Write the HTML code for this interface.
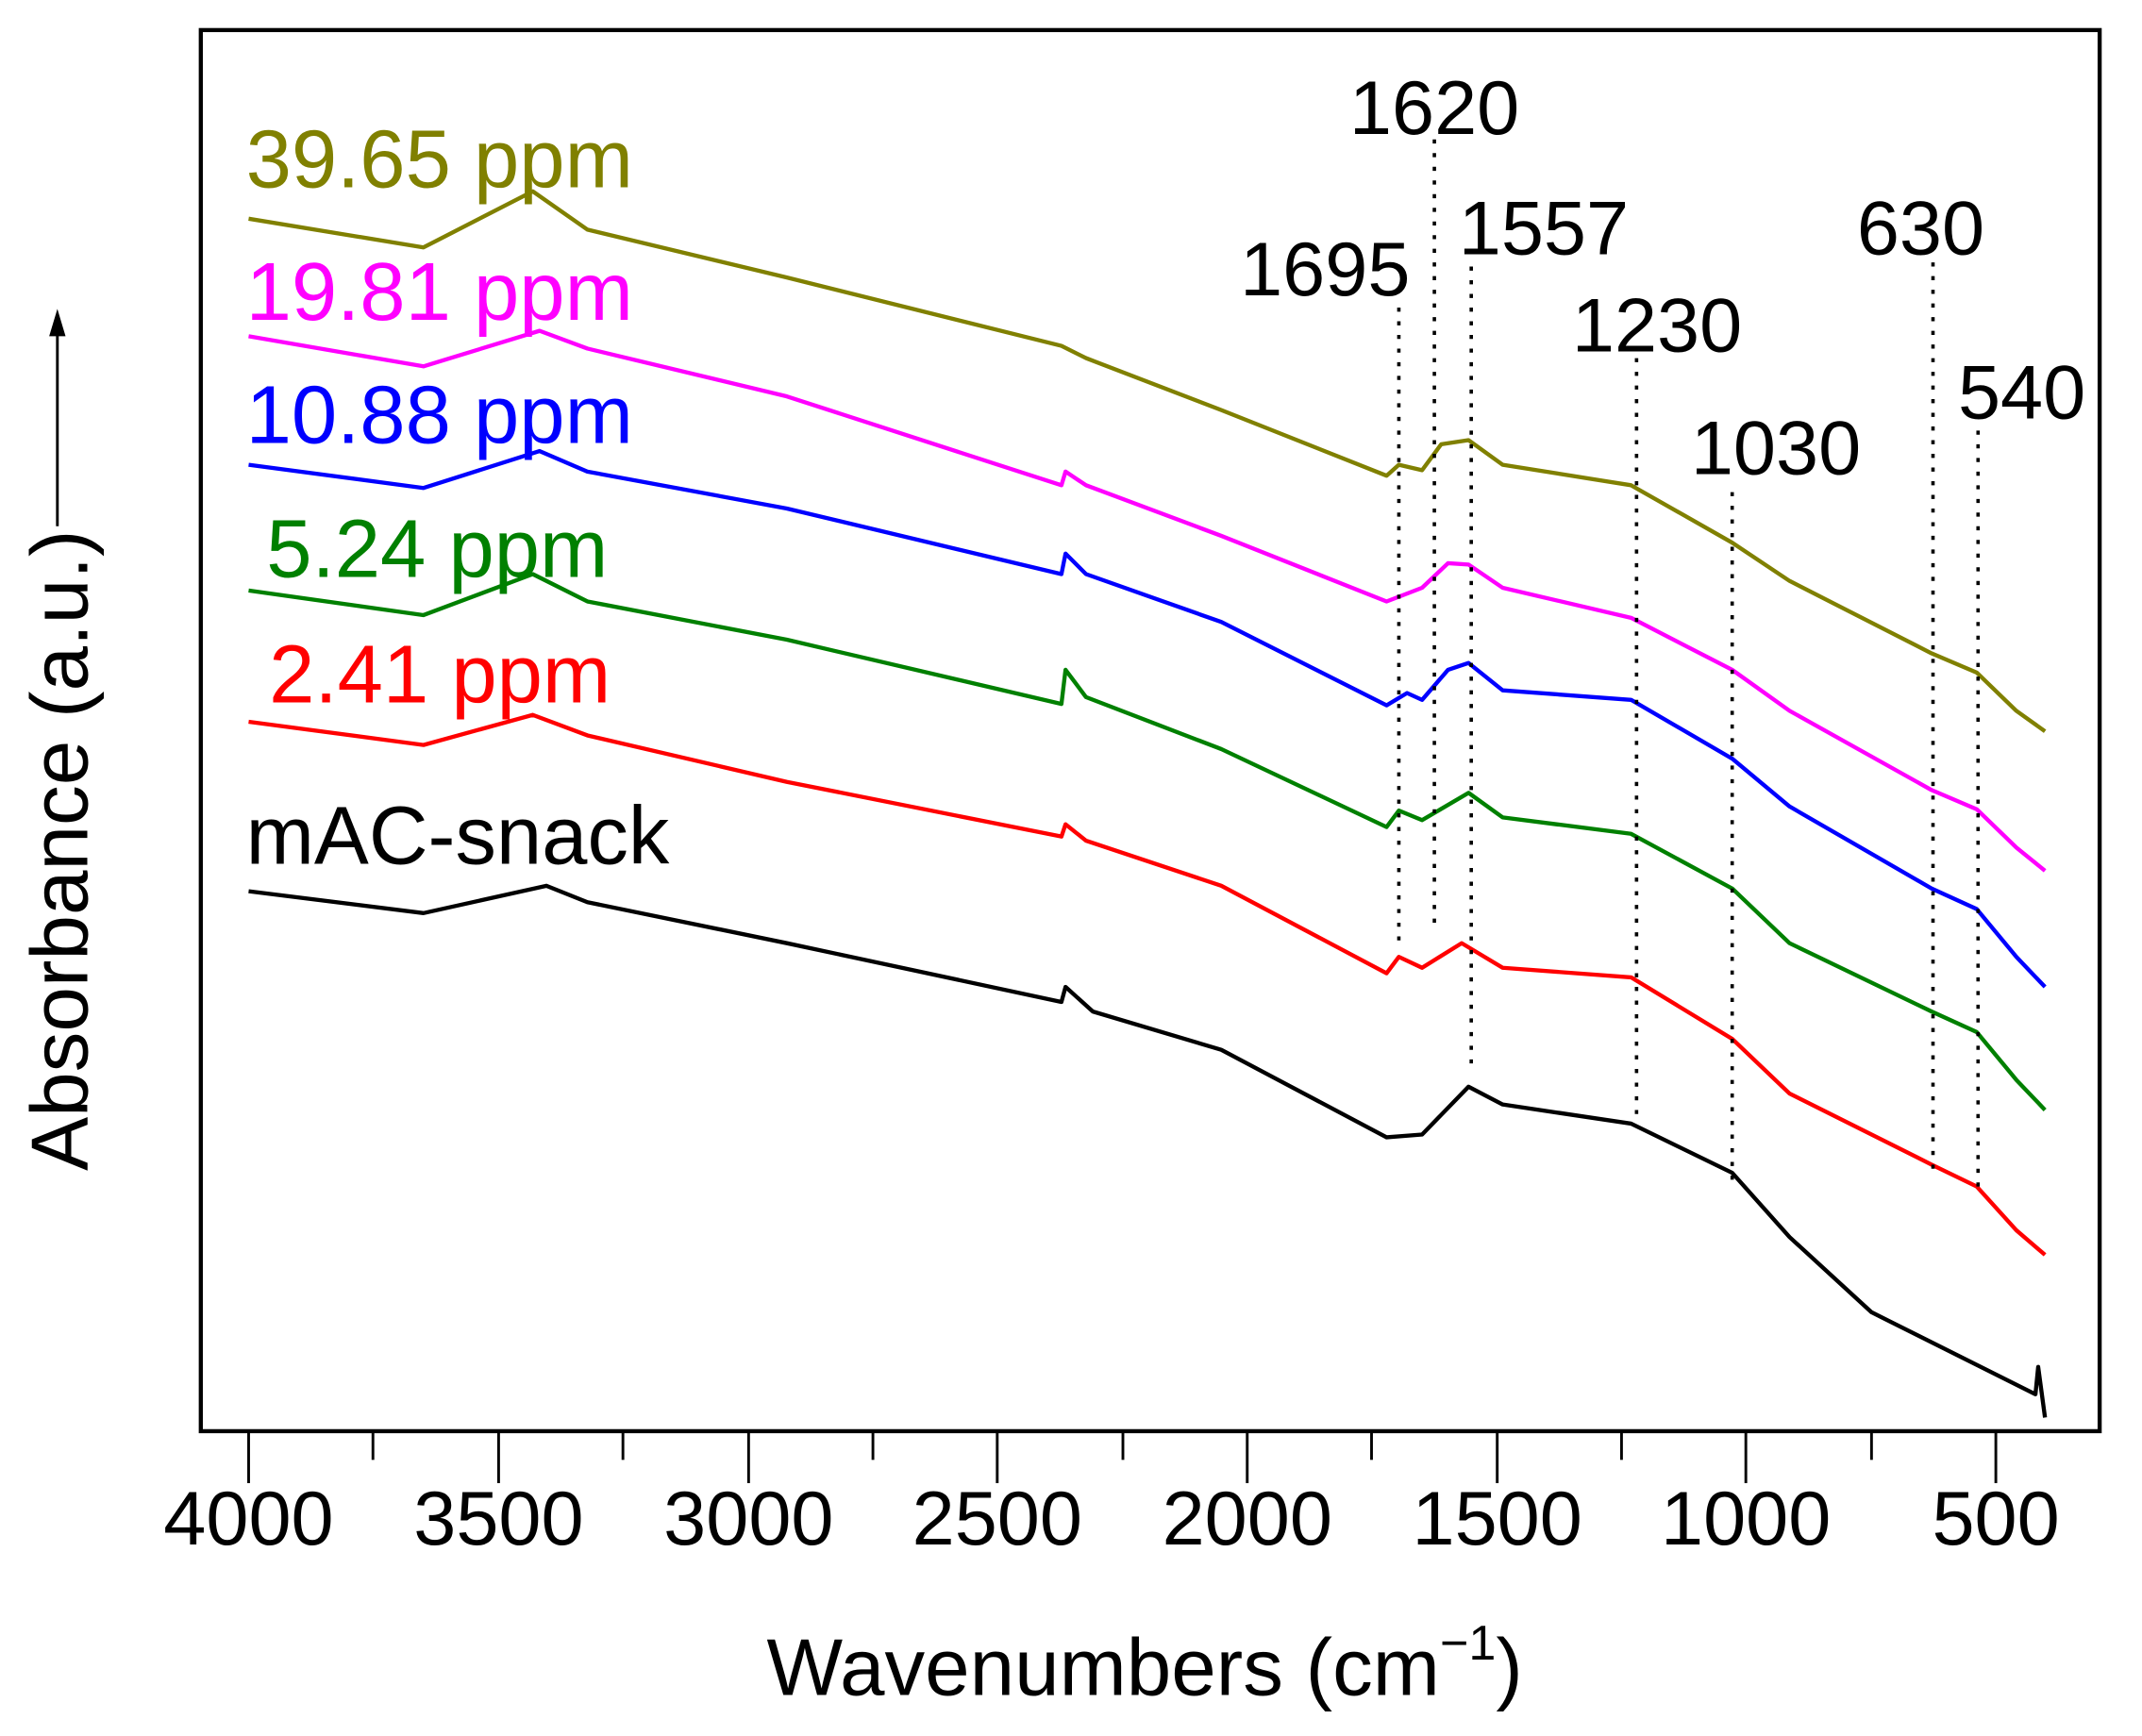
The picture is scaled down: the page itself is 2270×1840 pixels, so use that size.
<!DOCTYPE html>
<html><head><meta charset="utf-8"><style>
html,body{margin:0;padding:0;background:#fff;}
svg{display:block;}
text{font-family:"Liberation Sans",Arial,sans-serif;}
</style></head><body>
<svg width="2270" height="1840" viewBox="0 0 1568 1270" preserveAspectRatio="none" xmlns="http://www.w3.org/2000/svg">
<rect x="147" y="22" width="1390" height="1025" fill="none" stroke="#000" stroke-width="3"/>
<g stroke="#000" stroke-width="2">
<line x1="182" y1="1047" x2="182" y2="1085"/><line x1="273" y1="1047" x2="273" y2="1068"/>
<line x1="365" y1="1047" x2="365" y2="1085"/><line x1="456" y1="1047" x2="456" y2="1068"/>
<line x1="548" y1="1047" x2="548" y2="1085"/><line x1="639" y1="1047" x2="639" y2="1068"/>
<line x1="730" y1="1047" x2="730" y2="1085"/><line x1="822" y1="1047" x2="822" y2="1068"/>
<line x1="913" y1="1047" x2="913" y2="1085"/><line x1="1004" y1="1047" x2="1004" y2="1068"/>
<line x1="1096" y1="1047" x2="1096" y2="1085"/><line x1="1187" y1="1047" x2="1187" y2="1068"/>
<line x1="1278" y1="1047" x2="1278" y2="1085"/><line x1="1370" y1="1047" x2="1370" y2="1068"/>
<line x1="1461" y1="1047" x2="1461" y2="1085"/>
</g>
<g font-size="56" text-anchor="middle" fill="#000">
<text x="182" y="1130">4000</text><text x="365" y="1130">3500</text><text x="548" y="1130">3000</text>
<text x="730" y="1130">2500</text><text x="913" y="1130">2000</text><text x="1096" y="1130">1500</text>
<text x="1278" y="1130">1000</text><text x="1461" y="1130">500</text>
</g>
<text x="838" y="1240" font-size="59" text-anchor="middle">Wavenumbers (cm<tspan font-size="36" dy="-26">−1</tspan><tspan dy="26">)</tspan></text>
<text transform="translate(64,622) rotate(-90)" font-size="59" text-anchor="middle">Absorbance (a.u.)</text>
<line x1="42" y1="385" x2="42" y2="240" stroke="#000" stroke-width="2"/>
<polygon points="42,226 36,246 48,246" fill="#000"/>
<g fill="none" stroke-width="3" stroke-linejoin="round">
<polyline stroke="#808000" points="182,160 310,181 390,140 430,168 576,203 777,253 795,262 894,300 1015,348 1024,340 1041,344 1055,325 1075,322 1100,340 1194,355 1268,397 1310,425 1414,478 1447,492 1476,520 1497,535"/>
<polyline stroke="#ff00ff" points="182,246 310,268 395,242 430,255 576,290 777,355 780,345 795,355 894,392 1015,440 1041,430 1060,412 1075,413 1100,430 1194,452 1268,490 1310,520 1414,578 1447,592 1476,620 1497,637"/>
<polyline stroke="#0000ff" points="182,340 310,357 395,330 430,345 576,372 777,420 780,405 795,420 894,455 1015,516 1030,507 1041,512 1060,490 1075,485 1100,505 1194,512 1268,555 1310,590 1414,650 1447,665 1476,700 1497,722"/>
<polyline stroke="#008000" points="182,432 310,450 390,420 430,440 576,468 777,515 780,490 795,510 894,548 1015,605 1024,593 1041,600 1075,580 1100,598 1194,610 1268,650 1310,690 1414,740 1447,755 1476,790 1497,812"/>
<polyline stroke="#ff0000" points="182,528 310,545 390,523 430,538 576,572 777,612 780,603 795,615 894,648 1015,712 1024,700 1041,708 1070,690 1100,708 1194,715 1268,760 1310,800 1414,852 1447,868 1476,900 1497,918"/>
<polyline stroke="#000" points="182,652 310,668 400,648 430,660 576,690 777,733 780,722 800,740 894,768 1015,832 1041,830 1075,795 1100,808 1194,822 1268,858 1310,905 1370,960 1450,1000 1490,1020 1492,1000 1497,1037"/>
</g>
<g font-size="60">
<text x="180" y="137" fill="#808000">39.65 ppm</text>
<text x="180" y="234" fill="#ff00ff">19.81 ppm</text>
<text x="180" y="324" fill="#0000ff">10.88 ppm</text>
<text x="195" y="422" fill="#008000">5.24 ppm</text>
<text x="197" y="514" fill="#ff0000">2.41 ppm</text>
<text x="180" y="632" fill="#000">mAC-snack</text>
</g>
<g font-size="56" fill="#000">
<text x="1050" y="98" text-anchor="middle">1620</text>
<text x="970" y="216" text-anchor="middle">1695</text>
<text x="1130" y="186" text-anchor="middle">1557</text>
<text x="1213" y="257" text-anchor="middle">1230</text>
<text x="1300" y="347" text-anchor="middle">1030</text>
<text x="1406" y="186" text-anchor="middle">630</text>
<text x="1480" y="306" text-anchor="middle">540</text>
</g>
<g stroke="#000" stroke-width="2.5" stroke-dasharray="3,7">
<line x1="1050" y1="102" x2="1050" y2="680"/>
<line x1="1024" y1="225" x2="1024" y2="690"/>
<line x1="1077" y1="195" x2="1077" y2="780"/>
<line x1="1198" y1="262" x2="1198" y2="815"/>
<line x1="1268" y1="360" x2="1268" y2="870"/>
<line x1="1415" y1="192" x2="1415" y2="855"/>
<line x1="1448" y1="315" x2="1448" y2="870"/>
</g>
</svg>
</body></html>
